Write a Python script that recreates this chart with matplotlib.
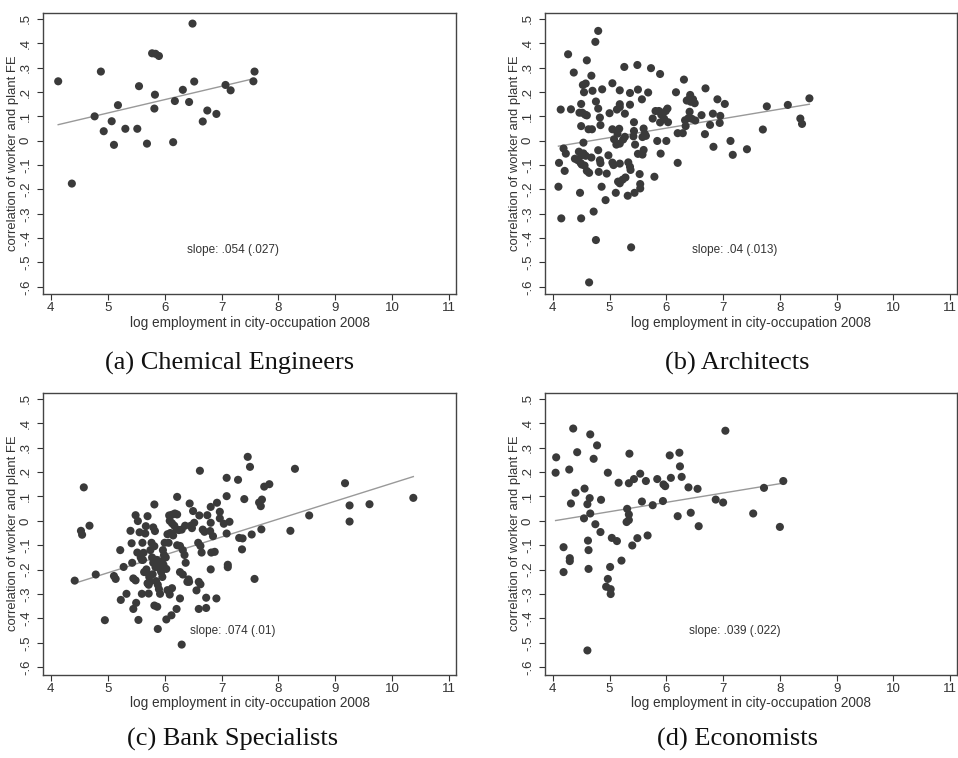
import numpy as np
import matplotlib
matplotlib.use("Agg")
import matplotlib.pyplot as plt

plt.rcParams["font.family"] = ["Liberation Sans", "DejaVu Sans"]

# (a) Chemical Engineers
chem_x = [4.13, 4.37, 4.77, 4.88, 4.93, 5.07, 5.11, 5.18, 5.31, 5.52, 5.55, 5.69, 5.78, 5.84,
          5.82, 5.83, 5.90, 6.15, 6.18, 6.32, 6.43, 6.49, 6.52, 6.67, 6.75, 6.91, 7.07, 7.16,
          7.56, 7.58]
chem_y = [0.244, -0.176, 0.100, 0.284, 0.039, 0.080, -0.017, 0.146, 0.049, 0.049, 0.224, -0.012,
          0.359, 0.357, 0.132, 0.189, 0.348, -0.006, 0.163, 0.209, 0.159, 0.481, 0.243, 0.079,
          0.124, 0.110, 0.229, 0.207, 0.244, 0.284]

# (b) Architects
arch_x = [4.80, 4.75, 4.27, 4.60, 4.37, 4.68, 5.26, 5.49, 5.73, 5.89, 6.31, 6.69, 4.53, 4.58,
          4.55, 4.70, 4.87, 5.05, 5.18, 5.36, 5.50, 5.68, 5.57, 6.17, 6.42, 6.40, 6.43, 6.47,
          6.36, 6.50, 6.90, 7.03, 7.77, 8.14, 8.52, 8.36, 8.39, 7.70,
          4.14, 4.32, 4.50, 4.76, 4.80, 4.83, 4.84, 4.47, 4.52, 4.57, 4.60, 4.50, 4.63, 4.69,
          4.54, 5.00, 5.13, 5.18, 5.18, 5.36, 5.27, 5.05, 5.17, 5.14, 5.08, 5.12, 5.18, 5.24,
          5.27, 5.43, 5.43, 5.42, 5.45, 5.60, 5.62, 5.64, 5.58, 5.60, 5.58, 5.50, 5.76, 5.81,
          5.87, 5.91, 5.89, 5.96, 5.99, 6.02, 6.03, 5.84, 6.00, 5.90, 6.20, 6.34, 6.33, 6.29,
          6.41, 6.39, 6.45, 6.62, 6.51, 6.82, 6.95, 6.94, 6.77, 6.68, 6.83, 7.13, 7.17, 7.42,
          6.20, 5.79,
          4.11, 4.10, 4.15, 4.19, 4.23, 4.21, 4.39, 4.44, 4.46, 4.50, 4.49, 4.51, 4.54, 4.58,
          4.56, 4.60, 4.64, 4.48, 4.50, 4.72, 4.76, 4.64, 4.68, 4.80, 4.83, 4.84, 4.81, 4.86,
          4.93, 4.95, 4.98, 5.05, 5.07, 5.11, 5.15, 5.18, 5.23, 5.28, 5.18, 5.33, 5.36, 5.32,
          5.37, 5.44, 5.53, 5.54, 5.54, 5.38]
arch_y = [0.451, 0.406, 0.355, 0.330, 0.280, 0.267, 0.303, 0.311, 0.298, 0.274, 0.251, 0.215,
          0.229, 0.235, 0.199, 0.205, 0.211, 0.236, 0.207, 0.196, 0.210, 0.198, 0.170, 0.199,
          0.188, 0.170, 0.160, 0.170, 0.165, 0.154, 0.170, 0.151, 0.141, 0.147, 0.174, 0.091,
          0.069, 0.046,
          0.128, 0.129, 0.151, 0.161, 0.132, 0.095, 0.064, 0.115, 0.115, 0.107, 0.104, 0.060,
          0.047, 0.047, -0.008, 0.113, 0.128, 0.150, 0.138, 0.148, 0.111, 0.047, 0.049, 0.029,
          0.006, -0.016, -0.012, 0.005, 0.016, 0.076, 0.040, 0.018, -0.016, 0.050, 0.028, 0.020,
          0.015, -0.038, -0.057, -0.054, 0.091, 0.122, 0.122, 0.107, 0.075, 0.091, 0.122, 0.132,
          0.076, -0.001, -0.001, -0.053, 0.031, 0.060, 0.084, 0.031, 0.119, 0.093, 0.090, 0.105,
          0.083, 0.111, 0.102, 0.073, 0.065, 0.027, -0.025, -0.001, -0.058, -0.035,
          -0.091, -0.148,
          -0.091, -0.189, -0.319, -0.032, -0.053, -0.124, -0.074, -0.080, -0.045, -0.060, -0.091,
          -0.098, -0.052, -0.062, -0.102, -0.124, -0.132, -0.214, -0.319, -0.291, -0.408, -0.582,
          -0.069, -0.039, -0.080, -0.092, -0.128, -0.189, -0.244, -0.135, -0.060, -0.090, -0.100,
          -0.214, -0.168, -0.175, -0.160, -0.151, -0.094, -0.089, -0.107, -0.226, -0.120, -0.214,
          -0.137, -0.178, -0.196, -0.438]

# (c) Bank Specialists
bank_x = [4.42, 4.53, 4.55, 4.58, 4.68, 4.79, 4.95, 5.11, 5.14, 5.22, 5.23, 5.28, 5.33, 5.40,
          5.42, 5.43, 5.45, 5.49, 5.45, 5.50, 5.54, 5.49, 5.53, 5.56, 5.60, 5.61, 5.63, 5.66,
          5.70, 5.67, 5.68, 5.70, 5.72, 5.72, 5.82, 5.83, 5.80, 5.77, 5.82, 5.80, 5.79, 5.82,
          5.87, 5.88, 5.85, 5.88, 5.90, 5.92, 5.89, 5.92, 5.94, 5.97, 5.99, 6.00, 6.03, 6.05,
          6.05, 6.07, 6.09, 6.13, 6.03, 6.12, 6.21, 6.27, 6.30, 6.08, 6.13, 6.18, 6.22, 6.09,
          6.13, 6.17, 6.21, 6.25, 6.30, 6.22, 6.22, 6.27, 6.32, 6.35, 6.37, 6.27, 6.32, 6.42,
          6.43, 6.44, 6.50, 6.52, 6.56, 6.60, 6.63, 6.60, 6.62, 6.61, 6.59, 6.63, 6.65, 6.67,
          6.70, 6.73, 6.73, 6.75, 6.80, 6.81, 6.81, 6.81, 6.82, 6.88, 6.85, 6.91, 6.92, 6.97,
          6.97, 7.04, 7.09, 7.09, 7.09, 7.11, 7.11, 7.14, 7.29, 7.31, 7.37, 7.36, 7.40, 7.46,
          7.50, 7.53, 7.58, 7.66, 7.69, 7.71, 7.70, 7.75, 7.84, 8.21, 8.29, 8.54, 9.17, 9.25,
          9.25, 9.60, 10.37,
          5.58, 5.62, 5.75, 5.78, 5.86, 5.95, 5.98, 6.02, 5.64, 5.73, 5.90, 5.96, 6.10, 6.15,
          5.52, 5.60, 5.68, 5.74, 5.84, 5.93, 6.40, 6.46, 6.36, 6.48]
bank_y = [-0.245, -0.041, -0.057, 0.137, -0.020, -0.220, -0.407, -0.226, -0.238, -0.120, -0.324,
          -0.189, -0.299, -0.041, -0.092, -0.172, -0.236, -0.244, -0.361, -0.336, -0.406, 0.023,
          -0.001, -0.047, -0.299, -0.090, -0.131, -0.052, 0.019, -0.022, -0.199, -0.256, -0.262,
          -0.298, 0.067, -0.042, -0.027, -0.090, -0.104, -0.172, -0.219, -0.347, -0.352, -0.443,
          -0.247, -0.262, -0.280, -0.299, -0.185, -0.197, -0.210, -0.120, -0.140, -0.090, -0.197,
          -0.055, -0.284, -0.090, -0.302, -0.276, -0.404, -0.387, -0.361, -0.318, -0.507, 0.022,
          0.025, 0.030, 0.026, 0.000, -0.010, -0.020, -0.035, -0.038, -0.036, 0.098, -0.100,
          -0.103, -0.120, -0.140, -0.172, -0.210, -0.220, -0.240, -0.250, 0.071, 0.040, -0.008,
          -0.285, -0.250, -0.260, -0.361, 0.205, 0.022, -0.090, -0.103, -0.130, -0.036, -0.045,
          -0.357, -0.315, 0.023, -0.042, -0.008, 0.057, -0.199, -0.130, -0.127, -0.063, -0.318,
          0.074, 0.037, 0.010, -0.012, 0.101, 0.176, -0.052, -0.180, -0.190, -0.004, 0.168,
          -0.070, -0.072, -0.117, 0.089, 0.262, 0.221, -0.056, -0.238, 0.075, 0.060, 0.087,
          -0.035, 0.140, 0.150, -0.041, 0.213, 0.022, 0.154, 0.063, -0.003, 0.068, 0.094,
          -0.150, -0.160, -0.120, -0.150, -0.160, -0.165, -0.180, -0.150, -0.210, -0.230,
          -0.180, -0.230, -0.050, -0.060, -0.130, -0.160, -0.210, -0.250, -0.190, -0.200,
          -0.250, -0.020, -0.020, -0.030]

# (d) Economists
econ_x = [4.06, 4.05, 4.19, 4.19, 4.29, 4.30, 4.30, 4.32, 4.36, 4.40, 4.43, 4.55, 4.56, 4.61,
          4.62, 4.63, 4.63, 4.65, 4.66, 4.66, 4.61, 4.72, 4.75, 4.78, 4.84, 4.85, 4.97, 4.97,
          4.94, 5.01, 5.02, 5.02, 5.04, 5.13, 5.16, 5.21, 5.30, 5.31, 5.34, 5.34, 5.35, 5.34,
          5.40, 5.43, 5.49, 5.54, 5.57, 5.64, 5.67, 5.76, 5.84, 5.94, 5.95, 5.98, 6.06, 6.08,
          6.20, 6.23, 6.24, 6.27, 6.39, 6.43, 6.55, 6.57, 6.87, 7.00, 7.04, 7.53, 7.72, 8.00,
          8.06]
econ_y = [0.260, 0.197, -0.108, -0.210, 0.210, -0.153, -0.165, 0.071, 0.378, 0.115, 0.281,
          0.010, 0.132, 0.068, -0.081, -0.120, -0.197, 0.093, 0.354, 0.030, -0.531, 0.254,
          -0.014, 0.309, -0.046, 0.086, 0.197, -0.238, -0.270, -0.189, -0.280, -0.300, -0.070,
          -0.083, 0.156, -0.163, -0.005, 0.049, 0.003, 0.026, 0.275, 0.154, -0.101, 0.171,
          -0.071, 0.193, 0.079, 0.163, -0.060, 0.064, 0.171, 0.081, 0.149, 0.142, 0.268, 0.176,
          0.019, 0.279, 0.223, 0.180, 0.137, 0.033, 0.131, -0.022, 0.087, 0.075, 0.369, 0.030,
          0.135, -0.025, 0.163]

titles = ["(a) Chemical Engineers", "(b) Architects", "(c) Bank Specialists", "(d) Economists"]
slopes = ["slope: .054 (.027)", "slope: .04 (.013)", "slope: .074 (.01)", "slope: .039 (.022)"]
xticks = [4, 5, 6, 7, 8, 9, 10, 11]
yticks = [0.5, 0.4, 0.3, 0.2, 0.1, 0, -0.1, -0.2, -0.3, -0.4, -0.5, -0.6]
ytick_labels = [".5", ".4", ".3", ".2", ".1", "0", "-.1", "-.2", "-.3", "-.4", "-.5", "-.6"]

data = [(chem_x, chem_y), (arch_x, arch_y), (bank_x, bank_y), (econ_x, econ_y)]
boxes = [[0.045, 0.612, 0.431, 0.371], [0.569, 0.612, 0.430, 0.371],
         [0.045, 0.110, 0.431, 0.372], [0.569, 0.110, 0.430, 0.372]]
cap_pos = [(0.240, 0.521), (0.770, 0.521), (0.243, 0.025), (0.770, 0.025)]

fig = plt.figure(figsize=(9.58, 7.58), dpi=100)
ink = "#3a3a3a"
for i in range(4):
    ax = fig.add_axes(boxes[i])
    x, y = np.array(data[i][0]), np.array(data[i][1])
    ax.scatter(x, y, s=34, color=ink, edgecolors="none", zorder=3)
    b, a = np.polyfit(x, y, 1)
    xs = np.array([x.min(), x.max()])
    ax.plot(xs, a + b * xs, color="#999999", lw=1.0, zorder=2)
    ax.text(7.2, -0.45, slopes[i], ha="center", va="center", fontsize=8.5, color="#333333")
    ax.set_xlim(3.865, 11.12)
    ax.set_ylim(-0.63, 0.525)
    ax.set_xticks(xticks)
    ax.set_yticks(yticks)
    ax.set_yticklabels(ytick_labels, rotation=90, va="center")
    ax.tick_params(labelsize=9.5, colors="#333333", length=4, width=0.8, pad=2)
    ax.tick_params(axis="y", pad=4)
    for sp in ax.spines.values():
        sp.set_color("#444444")
        sp.set_linewidth(1.0)
    ax.set_xlabel("log employment in city-occupation 2008", fontsize=9.8, color="#333333", labelpad=1)
    ax.set_ylabel("correlation of worker and plant FE", fontsize=9.4, color="#333333", labelpad=1)
    fig.text(cap_pos[i][0], cap_pos[i][1], titles[i], ha="center", va="center",
             fontsize=19, family="Liberation Serif", color="#111111")

fig.savefig("out.png", dpi=100)
